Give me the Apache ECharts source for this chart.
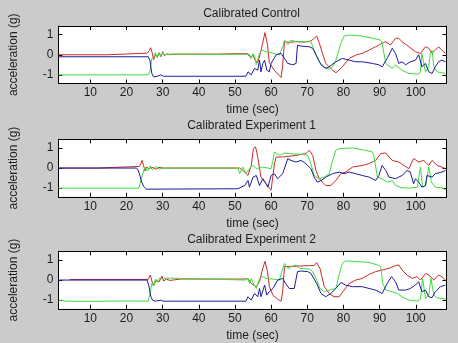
<!DOCTYPE html>
<html>
<head>
<meta charset="utf-8">
<script src="https://cdn.jsdelivr.net/npm/echarts@6/dist/echarts.min.js"></script>
<style>
html,body{margin:0;padding:0;background:#cbcbcb;}
#c{width:458px;height:343px;}
</style>
</head>
<body>
<div id="c"></div>
<script>
// ---------- data (time in s, acceleration in g) ----------
const titles = ['Calibrated Control', 'Calibrated Experiment 1', 'Calibrated Experiment 2'];
const xTicks = [10, 20, 30, 40, 50, 60, 70, 80, 90, 100];
const yTicks = [-1, 0, 1];

// Calibrated Control
const ctrlRedT = [1.2,14.8,15.0,25.7,26.3,26.7,27.1,27.5,28.0,28.5,29.0,29.5,30.0,30.5,31.2,32.0,33,45,50,53.5,54.0,54.5,55.0,55.5,56.3,57.2,58.3,59.0,59.5,61,62.75,63.2,63.7,65,67,69,71,72.6,73.3,73.8,75.1,77,77.9,79.7,81.6,83.4,85.2,87.1,88.9,90.7,91.7,93,94.4,95.3,96.2,98.1,99.9,101.3,102.7,103.6,104.5,105.4,106.3,107.2,108.2];
const ctrlRedV = [0.0,0.0,0.08,0.08,0.2,0.35,0.1,-0.25,0.0,-0.1,0.1,-0.1,0.15,-0.05,0.05,0.0,0.03,0.03,0.05,0.05,0.05,-0.1,0.0,-0.25,-0.4,0.2,1.1,0.5,-0.4,-0.8,-1.13,-0.5,0.65,0.62,0.65,0.63,0.68,0.93,0.6,0.3,-0.43,-0.77,-0.9,-0.6,-0.18,-0.02,0.07,0.23,0.4,0.57,0.65,0.48,0.82,0.82,0.65,0.4,0.15,0.07,0.4,0.32,0.07,0.23,0.4,0.23,0.07];
const ctrlGreenT = [1.2,26.0,26.5,27.0,27.5,28.0,28.5,29,29.5,30,30.5,31,32,45,53.5,54.0,54.5,55.0,55.5,55.9,56.8,57.7,58.6,60.5,62.3,63.2,63.7,64.1,64.6,65.5,66.9,69.6,71.0,71.9,73.3,74.7,76,77,77.9,79.3,80.2,81.6,85.2,88,90.3,90.7,91.7,93.5,94.4,96.2,98.1,100.8,101.3,101.7,102.2,102.7,103.6,104.0,104.5,105,105.9,108.2];
const ctrlGreenV = [-1.0,-1.0,-0.8,-0.2,-0.1,0.1,-0.15,0.1,-0.05,0.1,0.0,0.05,0.03,0.02,0.02,0.1,-0.2,0.05,-0.1,-0.5,0.07,0.23,0.15,0.07,0.0,0.4,0.73,0.73,0.5,0.73,0.65,0.65,0.65,0.23,-0.35,-0.6,-0.73,-0.6,-0.27,0.57,0.93,0.98,0.93,0.82,0.73,0.57,-0.43,-0.68,-0.5,-0.77,-0.93,-0.97,-0.85,0.07,-0.4,-0.85,-0.6,0.07,0.23,-0.6,-0.85,-0.93];
const ctrlBlueT = [1.2,26.0,26.5,27.0,27.5,28.5,29.5,29.8,30.2,53.0,53.6,54.5,55.4,56.3,56.8,57.2,57.7,58.2,58.8,59.5,60,61.4,62.75,63.7,64.6,66,66.9,67.3,68.2,70.5,71.5,72.4,73.8,75.1,76,77.9,79.7,81.6,83.4,85.2,88,89.8,90.7,92.1,93.5,94.4,95.3,96.2,97.2,98.5,99.9,100.8,101.7,102.7,103.6,104.5,105.4,106.3,107.2,108.2];
const ctrlBlueV = [-0.1,-0.1,-0.3,-0.93,-1.1,-1.07,-1.0,-0.95,-1.07,-1.07,-0.85,-1.0,-0.68,-0.77,-0.27,-0.85,-0.43,-0.27,-0.77,-0.85,-0.43,0.0,0.07,-0.18,-0.43,-0.5,-0.43,0.48,0.43,0.4,0.32,0.0,-0.5,-0.68,-0.6,-0.35,-0.18,-0.27,-0.35,-0.35,-0.43,-0.5,-0.6,-0.18,0.32,0.07,-0.43,-0.35,-0.5,-0.35,-0.27,0.0,-0.6,-0.43,-0.85,-0.93,-0.6,-0.35,-0.27,-0.35];

// Calibrated Experiment 1
const exp1RedT = [1.2,12.0,12.2,23.5,24.0,24.3,24.7,25.1,25.6,26.2,27,28,29,30.2,48.5,51.3,52.2,53.6,54.5,55.1,55.7,56.3,57.2,58.6,60.0,60.5,60.9,61.4,63.2,66.9,69.6,70.6,71.5,72.4,73.3,75.1,76.5,77.9,79.3,80.6,82.5,85.2,87.1,88.9,90.3,91.7,92.6,93.5,95.3,96.7,98.1,99.4,100.8,102.2,103.6,104.5,105.9,107.2,108.2];
const exp1RedV = [0.0,0.0,0.08,0.08,0.2,0.38,0.15,-0.15,0.05,-0.05,0.05,-0.05,0.03,0.0,0.0,0.0,-0.12,-0.37,0.13,0.97,1.05,0.55,-0.45,-0.78,-1.1,-1.1,0.2,0.55,0.55,0.63,0.72,0.88,0.63,-0.12,-0.53,-0.87,-0.87,-0.62,-0.28,-0.2,0.05,0.13,0.22,0.38,0.72,0.75,0.55,0.38,0.3,0.13,-0.03,0.47,0.3,0.38,0.13,0.38,0.13,0.05,-0.03];
const exp1GreenT = [1.2,23.4,24.0,24.8,25.3,25.8,26.5,27.2,28,29,30.2,50.8,51.3,52.2,53.1,54.0,55.0,55.9,57.7,60.0,60.5,60.9,61.4,62.3,63.7,65.0,68.7,70.1,71.0,71.9,73.3,74.7,76.1,77.0,77.9,78.8,82.5,86.1,88.0,88.4,89.4,90.7,92.1,93.5,94.4,96.2,98.5,100.4,101.3,101.9,102.7,103.6,104.3,105.4,107.2,108.2];
const exp1GreenV = [-1.0,-1.0,-0.6,-0.1,0.05,-0.15,0.1,-0.1,0.08,-0.05,0.0,0.0,-0.28,0.05,-0.28,-0.03,0.13,-0.03,0.05,-0.03,0.38,0.8,0.88,0.63,0.75,0.72,0.68,0.63,0.22,-0.37,-0.53,-0.45,-0.28,0.38,0.88,0.97,1.0,0.88,0.8,0.63,-0.45,-0.53,-0.7,-0.62,-0.87,-0.98,-1.0,-0.95,0.05,-0.95,-0.87,0.05,-0.7,-0.95,-0.98,-1.08];
const exp1BlueT = [1.2,22.8,23.2,23.6,24.2,24.8,25.5,50.8,51.7,52.7,53.6,54.0,55.0,55.9,56.8,57.7,58.6,59.1,60.0,60.9,61.8,63.2,64.6,65.5,66.9,68.3,69.6,71.0,71.9,72.8,73.8,75.1,77.0,78.8,80.2,81.6,83.4,85.2,87.1,88.9,89.8,90.7,91.7,92.6,94.4,96.2,97.6,98.5,99.4,99.9,100.8,101.7,102.7,103.1,104.5,105.4,107.2,108.2];
const exp1BlueV = [0.0,0.0,-0.1,-0.3,-0.7,-0.92,-1.05,-1.03,-0.95,-0.87,-0.62,-0.95,-0.45,-0.37,-0.87,-0.53,-0.78,-0.95,-0.37,-0.28,-0.53,-0.28,0.47,0.38,0.3,0.38,0.22,-0.03,-0.45,-0.7,-0.62,-0.45,-0.28,-0.2,-0.28,-0.2,-0.28,-0.37,-0.45,-0.62,-0.37,0.13,-0.12,-0.45,-0.53,-0.37,-0.12,-0.2,-0.78,-0.53,-0.7,-0.95,-0.87,-0.37,-0.45,-0.28,-0.2,-0.12];

// Calibrated Experiment 2
const exp2RedT = [4.3,26.0,26.6,27.1,27.6,28.2,29.0,29.8,30.3,31,32,35,53,53.6,54.5,55.9,56.8,57.7,58.3,59.0,59.5,60.5,61.8,62.75,63.2,63.7,65.0,70.6,71.9,72.6,73.5,74.7,76.1,77.4,78.8,80.2,81.6,83.4,85.2,87.1,88.9,90.7,92.6,94.4,95.3,96.2,97.6,99.0,100.4,101.3,102.7,103.6,105.0,106.3,107.2,108.2];
const exp2RedV = [0.03,0.03,0.25,-0.1,-0.25,0.0,-0.1,0.2,-0.05,0.05,-0.02,0.05,0.05,0.08,-0.17,-0.33,-0.08,0.58,0.93,0.42,-0.33,-0.75,-0.95,-1.05,-0.58,0.67,0.67,0.72,0.72,0.87,0.58,-0.33,-0.67,-0.83,-0.83,-0.5,-0.17,0.0,0.08,0.28,0.42,0.5,0.58,0.72,0.75,0.5,0.25,0.08,0.17,0.0,0.33,0.25,0.0,0.25,0.17,0.0];
const exp2GreenT = [1.2,2,3,10,20,26.0,26.6,27.0,27.5,28.0,28.5,29.2,30.0,31,35,53.0,53.6,54.0,54.5,55.1,55.9,56.8,57.7,58.6,60.5,62.3,63.2,63.7,64.6,65.5,66.9,67.8,70.6,71.5,72.6,73.5,74.7,76.1,77.9,78.8,79.7,80.6,83.4,87.1,89.4,90.3,90.9,91.7,93.5,94.9,96.2,98.1,100.4,101.3,101.9,102.7,103.6,104.2,105.0,105.9,108.2];
const exp2GreenV = [-1.05,-1.0,-1.05,-1.06,-1.04,-1.05,-0.6,-0.17,-0.3,0.05,-0.1,0.1,0.05,0.1,0.08,0.0,0.08,-0.17,0.08,-0.17,-0.42,0.08,0.17,0.08,0.05,0.0,0.58,0.83,0.58,0.67,0.75,0.58,0.55,0.42,0.0,-0.42,-0.58,-0.5,-0.42,0.25,0.83,0.95,0.92,0.88,0.75,0.67,-0.17,-0.5,-0.58,-0.67,-0.83,-1.0,-1.05,-0.95,0.08,-0.92,-0.75,0.08,-0.75,-0.88,-0.95];
const exp2BlueT = [1.2,25.7,26.2,26.7,27.2,28,29.5,29.8,30.1,53.0,53.6,54.5,55.4,56.3,56.8,57.2,58.2,58.8,59.5,60.5,61.8,63.2,64.0,65.0,66.4,67.3,68.3,70.1,71.0,72.6,73.8,75.1,76.5,77.9,79.3,80.6,82.5,85.2,87.1,88.9,90.7,92.1,93.3,94.4,95.3,97.2,98.5,99.9,100.8,101.7,102.7,103.6,104.5,105.4,106.8,108.2];
const exp2BlueV = [0.0,0.0,-0.3,-0.8,-1.0,-1.05,-1.0,-0.95,-1.05,-1.05,-0.83,-1.0,-0.67,-0.83,-0.42,-0.83,-0.25,-0.75,-0.58,-0.42,0.0,0.08,-0.17,-0.42,-0.42,0.42,0.45,0.42,0.33,-0.17,-0.67,-0.83,-0.67,-0.42,-0.12,-0.25,-0.33,-0.33,-0.42,-0.5,-0.67,-0.17,0.17,-0.08,-0.5,-0.5,-0.42,-0.25,-0.08,-0.58,-0.5,-0.83,-0.88,-0.58,-0.33,-0.25];

// ---------- chart ----------
const panels = [
  [[ctrlRedT, ctrlRedV], [ctrlGreenT, ctrlGreenV], [ctrlBlueT, ctrlBlueV]],
  [[exp1RedT, exp1RedV], [exp1GreenT, exp1GreenV], [exp1BlueT, exp1BlueV]],
  [[exp2RedT, exp2RedV], [exp2GreenT, exp2GreenV], [exp2BlueT, exp2BlueV]]
];
const lineColors = ['#cc2a2a', '#3ddc3d', '#1c1c98'];
const gridTops = [26, 139.3, 251.3];
const titleTops = [7.5, 120, 233.5];
const FONT = 'Liberation Sans, Arial, sans-serif';
const TXT = '#1e1e1e';
const X_MIN = 1.2, X_MAX = 108.5, Y_MIN = -1.43, Y_MAX = 1.43;

const grid = [], xAxis = [], yAxis = [], series = [], title = [];
gridTops.forEach((top, i) => {
  grid.push({left: 56.5, width: 390, top: top, height: 57.5, show: true, backgroundColor: '#ffffff', borderWidth: 0});
  title.push({text: titles[i], left: 251.5, top: titleTops[i], textAlign: 'center', padding: 0,
    textStyle: {fontFamily: FONT, fontSize: 12, fontWeight: 'normal', color: TXT}});
  const axLine = {show: true, onZero: false, lineStyle: {color: '#000', width: 1}};
  xAxis.push({type: 'value', gridIndex: i, min: X_MIN, max: X_MAX, position: 'bottom',
    axisLine: axLine, splitLine: {show: false},
    axisTick: {show: true, inside: true, length: 4, customValues: xTicks, lineStyle: {color: '#000'}},
    axisLabel: {show: true, customValues: xTicks, fontFamily: FONT, fontSize: 12, color: TXT, margin: 3.5},
    name: 'time (sec)', nameLocation: 'middle', nameGap: 20.5,
    nameTextStyle: {fontFamily: FONT, fontSize: 12, color: TXT}});
  xAxis.push({type: 'value', gridIndex: i, min: X_MIN, max: X_MAX, position: 'top',
    axisLine: axLine, splitLine: {show: false},
    axisTick: {show: true, inside: true, length: 4, customValues: xTicks, lineStyle: {color: '#000'}},
    axisLabel: {show: false}});
  yAxis.push({type: 'value', gridIndex: i, min: Y_MIN, max: Y_MAX, position: 'left',
    axisLine: axLine, splitLine: {show: false},
    axisTick: {show: true, inside: true, length: 4, customValues: yTicks, lineStyle: {color: '#000'}},
    axisLabel: {show: true, customValues: yTicks, fontFamily: FONT, fontSize: 12, color: TXT, margin: 5},
    name: 'acceleration (g)', nameLocation: 'middle', nameGap: 38.5,
    nameTextStyle: {fontFamily: FONT, fontSize: 12, color: TXT}});
  yAxis.push({type: 'value', gridIndex: i, min: Y_MIN, max: Y_MAX, position: 'right',
    axisLine: axLine, splitLine: {show: false},
    axisTick: {show: true, inside: true, length: 4, customValues: yTicks, lineStyle: {color: '#000'}},
    axisLabel: {show: false}});
  panels[i].forEach((s, k) => {
    series.push({type: 'line', xAxisIndex: 2 * i, yAxisIndex: 2 * i,
      data: s[0].map((t, j) => [t, s[1][j]]),
      showSymbol: false, symbol: 'none', silent: true,
      lineStyle: {color: lineColors[k], width: 1}, z: 2});
  });
});

const chart = echarts.init(document.getElementById('c'), null, {renderer: 'canvas'});
chart.setOption({backgroundColor: '#cbcbcb', animation: false, title, grid, xAxis, yAxis, series});
</script>
</body>
</html>
